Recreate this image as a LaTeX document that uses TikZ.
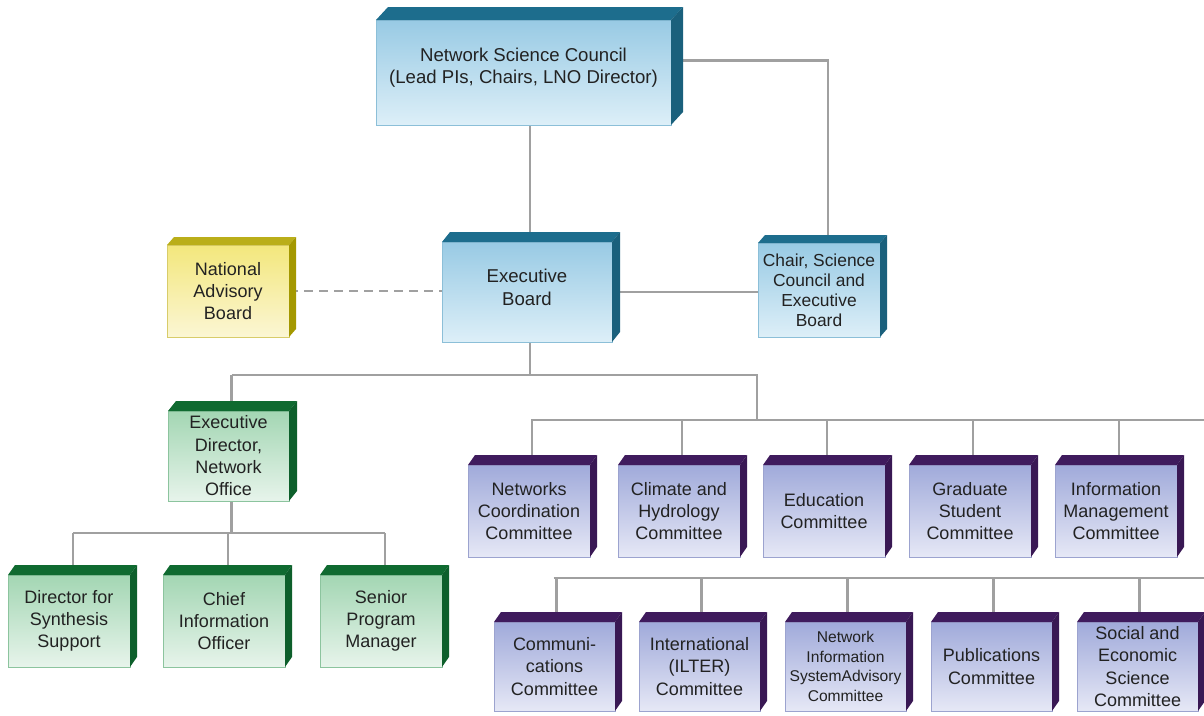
\documentclass[tikz,border=0pt]{standalone}
\usepackage{fontspec}
\setmainfont{Liberation Sans}
\usetikzlibrary{calc}
\pgfdeclarelayer{bg}\pgfsetlayers{bg,main}
\definecolor{blueT}{HTML}{98CAE4}\definecolor{blueL}{HTML}{DDEFF8}\definecolor{blueB}{HTML}{8CBFD8}\definecolor{blueD}{HTML}{1D6D8D}
\definecolor{yelT}{HTML}{F3E77C}\definecolor{yelL}{HTML}{FBF6D4}\definecolor{yelB}{HTML}{D8CC6A}\definecolor{yelD}{HTML}{B2A500}
\definecolor{grnT}{HTML}{A3D6B3}\definecolor{grnL}{HTML}{E7F4EB}\definecolor{grnB}{HTML}{8CC49E}\definecolor{grnD}{HTML}{0F6A30}
\definecolor{purT}{HTML}{A0AADA}\definecolor{purL}{HTML}{E6E8F6}\definecolor{purB}{HTML}{9CA3CF}\definecolor{purD}{HTML}{3F1B5D}
\definecolor{lineG}{HTML}{A0A0A0}
\definecolor{txt}{HTML}{222222}
\newcommand\cubebox[9]{%
  \node[#8front, minimum width={(#4-#2)*1pt}, minimum height={(#5-#3)*1pt}] (#1) at ({(#2+#4)/2},{(#3+#5)/2}) {#9};
  \fill[#8top] (#1.north west) -- ++(#6,-#7) -- ([shift={(#6,-#7)}]#1.north east) -- (#1.north east) -- cycle;
  \fill[#8side] (#1.north east) -- ++(#6,-#7) -- ([shift={(#6,-#7)}]#1.south east) -- (#1.south east) -- cycle;
}
\tikzset{
  box/.style={draw, line width=0.6pt, inner sep=2pt, align=center, outer sep=0pt, text=txt, font=\fontsize{18}{22.3}\selectfont},
  bluefront/.style={box, draw=blueB, top color=blueT, bottom color=blueL},
  bluetop/.style={fill=blueD}, blueside/.style={fill=blueD!88!black},
  bluebigfront/.style={bluefront, font=\fontsize{18.6}{22.5}\selectfont},
  bluebigtop/.style={bluetop}, bluebigside/.style={blueside},
  bluechairfront/.style={bluefront, font=\fontsize{17.4}{20}\selectfont},
  bluechairtop/.style={bluetop}, bluechairside/.style={blueside},
  yelfront/.style={box, draw=yelB, top color=yelT, bottom color=yelL},
  yeltop/.style={fill=yelD!90!white}, yelside/.style={fill=yelD!92!black},
  grnfront/.style={box, draw=grnB, top color=grnT, bottom color=grnL},
  grntop/.style={fill=grnD}, grnside/.style={fill=grnD!90!black},
  purfront/.style={box, draw=purB, top color=purT, bottom color=purL},
  purtop/.style={fill=purD}, purside/.style={fill=purD!90!black},
  purnisfront/.style={purfront, inner sep=1pt, font=\fontsize{15.6}{19.4}\selectfont},
  purnistop/.style={purtop}, purnisside/.style={purside},
  conn/.style={draw=lineG, line width=2.6pt},
  dconn/.style={draw=lineG, line width=2.6pt, dash pattern=on 9pt off 6pt},
}
\begin{document}
\begin{tikzpicture}[x=1pt,y=-1pt]
\useasboundingbox (0,0) rectangle (1204,715);
% top
\cubebox{nsc}{376}{20}{671}{125}{12}{13}{bluebig}{Network Science Council\\(Lead PIs, Chairs, LNO Director)\\[-9pt]}
\cubebox{eb}{442}{242}{612}{342}{8}{10}{bluebig}{Executive\\Board\\[-13pt]}
\cubebox{chair}{758}{243}{880}{337}{7}{8}{bluechair}{Chair, Science\\Council and\\Executive\\Board}
\cubebox{nab}{167}{245}{289}{337}{7}{8}{yel}{National\\Advisory\\Board}
% green
\cubebox{ed}{168}{411}{289}{501}{8}{10}{grn}{Executive\\Director,\\Network\\Office}
\cubebox{dss}{8}{575}{130}{667}{7}{10}{grn}{Director for\\Synthesis\\Support}
\cubebox{cio}{163}{575}{285}{667}{7}{10}{grn}{Chief\\Information\\Officer}
\cubebox{spm}{320}{575}{442}{667}{7}{10}{grn}{Senior\\Program\\Manager}
% committees row 1
\cubebox{c1}{468}{465}{590}{557}{7}{10}{pur}{Networks\\Coordination\\Committee}
\cubebox{c2}{618}{465}{740}{557}{7}{10}{pur}{Climate and\\Hydrology\\Committee}
\cubebox{c3}{763}{465}{885}{557}{7}{10}{pur}{Education\\Committee}
\cubebox{c4}{909}{465}{1031}{557}{7}{10}{pur}{Graduate\\Student\\Committee}
\cubebox{c5}{1055}{465}{1177}{557}{7}{10}{pur}{Information\\Management\\Committee}
% committees row 2
\cubebox{d1}{494}{622}{615}{711}{7}{10}{pur}{Communi-\\cations\\Committee}
\cubebox{d2}{639}{622}{760}{711}{7}{10}{pur}{International\\(ILTER)\\Committee}
\cubebox{d3}{785}{622}{906}{711}{7}{10}{purnis}{Network\\Information\\SystemAdvisory\\Committee}
\cubebox{d4}{931}{622}{1052}{711}{7}{10}{pur}{Publications\\Committee}
\cubebox{d5}{1077}{622}{1198}{711}{7}{10}{pur}{Social and\\Economic\\Science\\Committee}
% bus coordinates
\coordinate (busA) at (0,375);
\coordinate (busB) at (757,420);
\coordinate (busBend) at (1204,420);
\coordinate (busC) at (0,533);
\coordinate (busD) at (0,578);
\coordinate (busDend) at (1204,578);
\begin{pgfonlayer}{bg}
\draw[conn] ([xshift=3pt]eb.center |- nsc.center) -- ([xshift=3pt]eb.center);
\draw[conn] ([yshift=12pt]nsc.east) -| ([xshift=9pt]chair.center);
\draw[conn] (eb.center) -- (eb.center -| chair.center);
\draw[dconn] (nab.east) -- (nab.east -| eb.west);
\draw[conn] ([xshift=3pt]eb.center) -- ([xshift=3pt]eb.center |- busA);
\draw[conn] ([xshift=3pt]ed.center |- busA) -- (busB |- busA) -- (busB);
\draw[conn] ([xshift=3pt]ed.center |- busA) -- ([xshift=3pt]ed.center);
\draw[conn] ([xshift=2pt]c1.center |- busB) -- (busBend);
\foreach \c in {c1,c2,c3,c4,c5}
  \draw[conn] ([xshift=3pt]\c.center |- busB) -- ([xshift=3pt]\c.center);
\draw[conn] ([xshift=3pt]ed.center) -- ([xshift=3pt]ed.center |- busC);
\draw[conn] ([xshift=4pt]dss.center |- busC) -- ([xshift=4pt]spm.center |- busC);
\foreach \c in {dss,cio,spm}
  \draw[conn] ([xshift=4pt]\c.center |- busC) -- ([xshift=4pt]\c.center);
\draw[conn] ([xshift=-1pt]d1.center |- busD) -- (busDend);
\foreach \c in {d1,d2,d3,d4,d5}
  \draw[conn] ([xshift=2pt]\c.center |- busD) -- ([xshift=2pt]\c.center);
\end{pgfonlayer}
\end{tikzpicture}
\end{document}
